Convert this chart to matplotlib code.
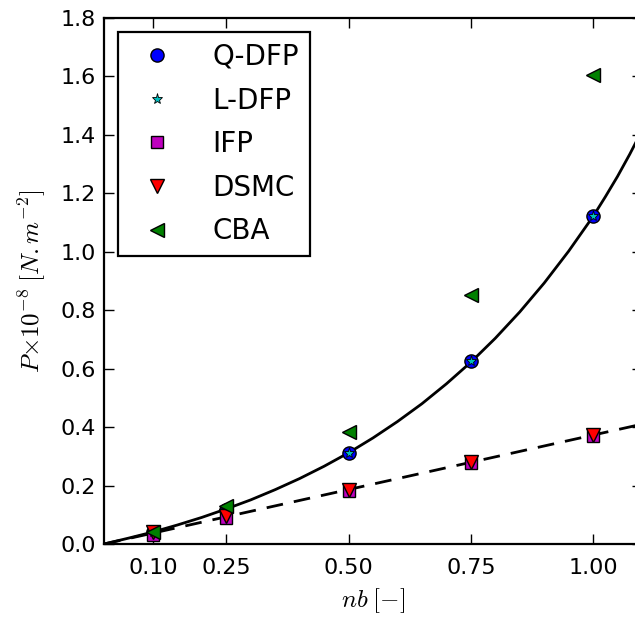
import numpy as np
import matplotlib
matplotlib.use('Agg')
import matplotlib.pyplot as plt

# sample points
nb = [0.10, 0.25, 0.50, 0.75, 1.00]
q_dfp = [0.040, 0.116, 0.313, 0.625, 1.121]
l_dfp = [0.040, 0.116, 0.313, 0.625, 1.121]
ifp = [0.031, 0.088, 0.180, 0.276, 0.368]
dsmc = [0.040, 0.097, 0.186, 0.280, 0.372]
cba = [0.042, 0.130, 0.384, 0.853, 1.605]

# solid trend line
fit_x = [0, 0.05, 0.10, 0.15, 0.20, 0.25, 0.30, 0.35, 0.40, 0.45, 0.50, 0.55,
         0.60, 0.65, 0.70, 0.75, 0.80, 0.85, 0.90, 0.95, 1.00, 1.025, 1.05,
         1.075, 1.10]
fit_y = [0, 0.020, 0.041, 0.065, 0.091, 0.120, 0.151, 0.186, 0.224, 0.266,
         0.312, 0.363, 0.419, 0.480, 0.548, 0.622, 0.704, 0.794, 0.893, 1.002,
         1.121, 1.188, 1.258, 1.334, 1.415]

# dashed trend line
lin_x = [0, 1.10]
lin_y = [0, 0.410]

plt.rcParams['mathtext.fontset'] = 'cm'
plt.rcParams['lines.scale_dashes'] = False

fig = plt.figure(figsize=(6.35, 6.19), dpi=100)
ax = fig.add_axes([104 / 635, 75 / 619, 538 / 635, 526 / 619])

ax.plot(fit_x, fit_y, '-', color='k', lw=2, zorder=2)
ax.plot(lin_x, lin_y, color='k', lw=2, dashes=(12, 8), zorder=2)

ax.plot(nb, q_dfp, 'o', color='b', ms=9.5, mec='k', mew=1, label='Q-DFP', zorder=3)
ax.plot(nb, l_dfp, '*', color=(0, 0.75, 0.75), ms=8, mec='k', mew=0.6, label='L-DFP', zorder=4)
ax.plot(nb, ifp, 's', color=(0.75, 0, 0.75), ms=9, mec='k', mew=1, label='IFP', zorder=3)
ax.plot(nb, dsmc, 'v', color='r', ms=10, mec='k', mew=1, label='DSMC', zorder=4)
ax.plot(nb, cba, '<', color=(0, 0.5, 0), ms=10, mec='k', mew=1, label='CBA', zorder=5)

ax.set_xlim(0, 1.1)
ax.set_ylim(0, 1.8)
ax.set_xticks(nb)
ax.set_xticklabels(['0.10', '0.25', '0.50', '0.75', '1.00'])
ax.set_yticks(np.arange(0, 1.81, 0.2))
ax.set_yticklabels(['%.1f' % v for v in np.arange(0, 1.81, 0.2)])

ax.tick_params(direction='in', top=True, right=True, length=7.5, width=1)
ax.tick_params(axis='x', labelsize=16, pad=10)
ax.tick_params(axis='y', labelsize=16, pad=6)
for s in ax.spines.values():
    s.set_linewidth(1.6)

ax.set_xlabel(r'$nb\;[-]$', fontsize=18, labelpad=6)
ax.set_ylabel(r'$P{\times}10^{-8}\;[N.m^{-2}]$', fontsize=18, labelpad=9)

leg = ax.legend(loc='upper left', numpoints=1, fontsize=20, fancybox=False,
                framealpha=1, edgecolor='k', handletextpad=1.0, labelspacing=0.56)
leg.get_frame().set_linewidth(1.6)

fig.savefig('out.png', dpi=100)
